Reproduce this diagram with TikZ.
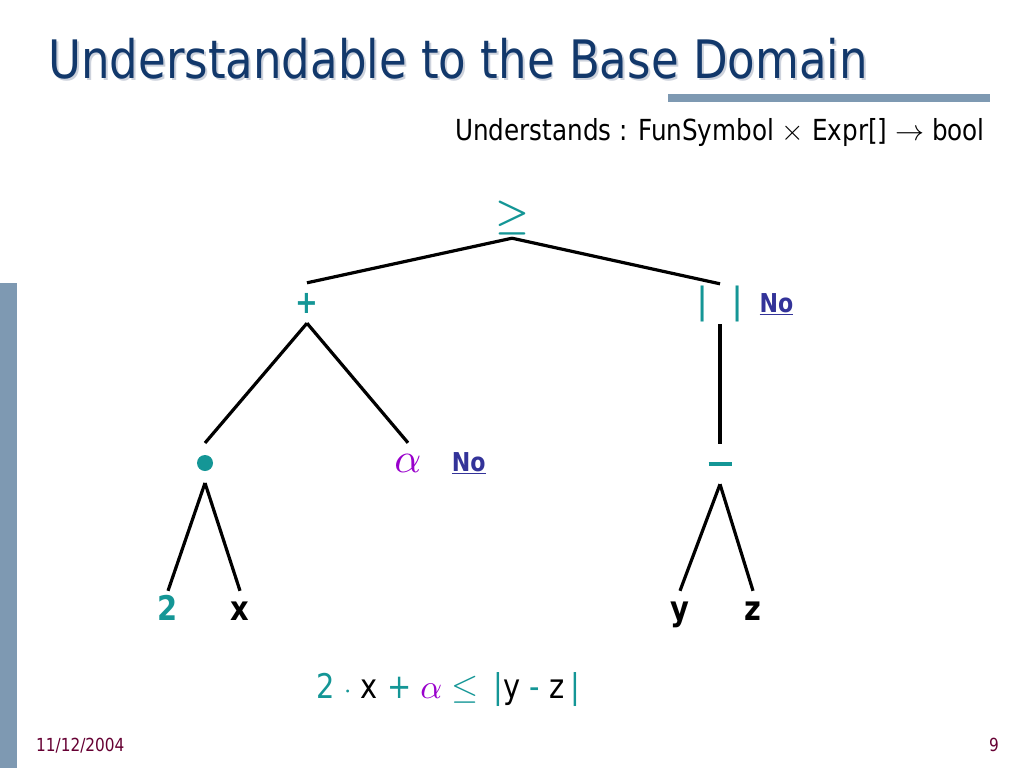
\documentclass[tikz,border=0pt]{standalone}
\usepackage{graphicx}
\usepackage{fontspec}
\setmainfont{DejaVu Sans}
\newfontfamily\slidefont[FakeStretch=0.85]{DejaVu Sans}
\usetikzlibrary{positioning}

\definecolor{titleblue}{RGB}{18,56,107}
\definecolor{titleshadow}{RGB}{205,210,220}
\definecolor{barblue}{RGB}{126,153,178}
\definecolor{symteal}{RGB}{20,150,150}
\definecolor{alphapurple}{RGB}{153,0,204}
\definecolor{noblue}{RGB}{51,51,153}
\definecolor{datered}{RGB}{102,0,51}

% math symbol at a large size
\newcommand{\symbig}[2]{\scalebox{#1}{\normalsize$#2$}}
\newcommand{\symbold}[2]{\scalebox{#1}{\normalsize\boldmath$#2$}}

\begin{document}
\begin{tikzpicture}[x=1pt,y=1pt,node distance=160pt,
    edge/.style={line width=3.2pt},
    op/.style={inner sep=0pt,minimum height=40pt,text=symteal},
    leaf/.style={inner sep=0pt,minimum height=54pt,text height=0.73em,text depth=0.21em,
      font=\slidefont\fontsize{34}{34}\selectfont\bfseries},
    no/.style={inner sep=0pt,text=noblue,font=\slidefont\fontsize{26}{26}\selectfont\bfseries}]
  \useasboundingbox[fill=white] (0,0) rectangle (1024,-768);

  \fill[barblue] (0,-283) rectangle (17,-768);
  \fill[barblue] (668,-94) rectangle (990,-102);

  \node[anchor=base west,inner sep=0pt,text=titleshadow,
    font=\slidefont\fontsize{53}{53}\selectfont] (titleshadow) at (50,-80)
    {Understandable to the Base Domain};
  \node[anchor=base west,inner sep=0pt,text=titleblue,
    font=\slidefont\fontsize{53}{53}\selectfont] (title) at (48,-78)
    {Understandable to the Base Domain};
  \node[anchor=base east,inner sep=0pt,font=\slidefont\fontsize{29}{29}\selectfont] (sig)
    at (985,-140) {Understands : FunSymbol \symbig{2.9}{\times} Expr[] \symbig{2.9}{\rightarrow} bool};

  % tree
  \node[op] (ge) at (512,-218) {\symbold{3.8}{\geq}};
  \node[op,font=\slidefont\fontsize{32}{32}\selectfont\bfseries] (plus)
    [below of=ge,yshift=75pt,xshift=-205pt] {+};
  \node[op,font=\fontsize{36}{36}\selectfont] (abs)
    [below of=ge,yshift=74pt,xshift=208pt] {|\hspace{22pt}|};
  \node[no] (noA) [right=16pt of abs] {\underline{No}};

  \node[circle,fill=symteal,minimum size=16pt,inner sep=0pt,outer sep=12pt] (dot)
    [below of=plus,xshift=-102pt] {};
  \node[op,text=alphapurple] (alpha)
    [below of=plus,xshift=101pt] {\symbig{4.2}{\alpha}};
  \node[no] (noB) [right=30pt of alpha] {\underline{No}};
  \node[op] (minus) [below of=abs] {\rule{23pt}{4pt}};

  \node[leaf,text=symteal] (two) [below of=dot,yshift=5pt,xshift=-37pt] {2};
  \node[leaf] (x) [below of=dot,yshift=5pt,xshift=35pt] {x};
  \node[leaf] (y) [below of=minus,yshift=6pt,xshift=-40pt] {y};
  \node[leaf] (z) [below of=minus,yshift=6pt,xshift=33pt] {z};

  \draw[edge] (ge.south) -- (plus.north);
  \draw[edge] (ge.south) -- (abs.north);
  \draw[edge] (plus.south) -- (dot.north);
  \draw[edge] (plus.south) -- (alpha.north);
  \draw[edge] (abs.south) -- (minus.north);
  \draw[edge] (dot.south) -- (two.north);
  \draw[edge] (dot.south) -- (x.north);
  \draw[edge] (minus.south) -- (y.north);
  \draw[edge] (minus.south) -- (z.north);

  \node[font=\slidefont\fontsize{34}{34}\selectfont] (formula) at (448,-690)
    {{\color{symteal}2 \symbig{2.8}{\cdot}} x {\color{symteal}+} {\color{alphapurple}\symbig{3.4}{\alpha}}
     {\color{symteal}\symbig{3.5}{\leq} \,|}y {\color{symteal}-} z\,{\color{symteal}|}};

  \node[anchor=base west,inner sep=0pt,text=datered,font=\slidefont\fontsize{18}{18}\selectfont]
    (date) at (36,-751) {11/12/2004};
  \node[anchor=base east,inner sep=0pt,text=datered,font=\slidefont\fontsize{18}{18}\selectfont]
    (page) at (999,-751) {9};
\end{tikzpicture}
\end{document}
